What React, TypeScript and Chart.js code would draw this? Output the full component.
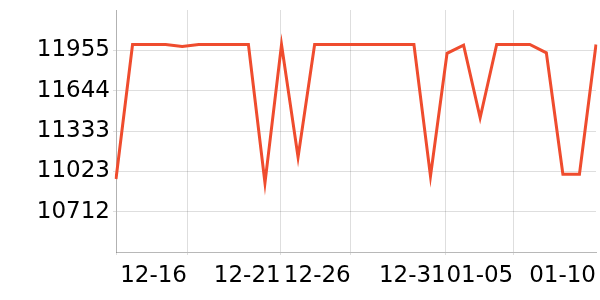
import React, { useEffect, useRef } from "react";
import { Chart, registerables } from "chart.js";

Chart.register(...registerables);

const categories: string[] = [
  "12-12", "12-13", "12-14", "12-15", "12-16", "12-17", "12-18", "12-19", "12-20", "12-21",
  "12-22", "12-23", "12-24", "12-25", "12-26", "12-27", "12-28", "12-29", "12-30", "12-31",
  "01-01", "01-02", "01-03", "01-04", "01-05", "01-06", "01-07", "01-08", "01-09", "01-10",
];

const seriesValues: number[] = [
  10964, 12000, 12000, 12000, 11985, 12000, 12000, 12000, 12000, 10933,
  12000, 11131, 12000, 12000, 12000, 12000, 12000, 12000, 12000, 10985,
  11932, 11995, 11435, 12000, 12000, 12000, 11936, 11000, 11000, 12000,
];

const xTickLabels: string[] = ["", "12-16", "12-21", "12-26", "12-31", "01-05", "01-10"];
const xTickPositions: number[] = [0, 4.29, 9.95, 14.18, 19.92, 24.0, 29];

const yTickValues: number[] = [10712, 11023, 11333, 11644, 11955];
const yMin = 10401.25;
const yMax = 12265.75;

export default function App() {
  const canvasRef = useRef<HTMLCanvasElement | null>(null);

  useEffect(() => {
    document.body.style.margin = "0";
    const canvas = canvasRef.current;
    if (!canvas) return;
    const font = { family: "DejaVu Sans", size: 23 };
    const chart = new Chart(canvas, {
      type: "line",
      data: {
        labels: categories,
        datasets: [
          {
            data: seriesValues,
            borderColor: "#ef4c2e",
            backgroundColor: "#ef4c2e",
            borderWidth: 3,
            pointRadius: 0,
            tension: 0,
            fill: false,
          },
        ],
      },
      options: {
        animation: false,
        responsive: false,
        layout: { padding: { top: 10, right: 4, left: 0, bottom: 0 } },
        plugins: { legend: { display: false }, tooltip: { enabled: false } },
        scales: {
          x: {
            type: "category",
            afterBuildTicks: (scale: any) => {
              scale.ticks = xTickPositions.map((v) => ({ value: v }));
            },
            afterFit: (scale: any) => {
              scale.height = 48;
              scale.paddingLeft = 0;
              scale.paddingRight = 0;
            },
            grid: {
              color: (ctx: any) =>
                ctx.index === xTickPositions.length - 1 ? "rgba(0,0,0,0)" : "rgba(0,0,0,0.13)",
              tickLength: 3,
            },
            border: { color: "rgba(0,0,0,0.28)" },
            ticks: {
              autoSkip: false,
              maxRotation: 0,
              minRotation: 0,
              align: "end",
              padding: 7,
              color: "#000",
              font,
              callback: (_v: any, i: number) => xTickLabels[i],
            },
          },
          y: {
            min: yMin,
            max: yMax,
            afterBuildTicks: (scale: any) => {
              scale.ticks = yTickValues.map((v) => ({ value: v }));
            },
            afterFit: (scale: any) => {
              scale.width = 116;
              scale.paddingTop = 0;
              scale.paddingBottom = 0;
            },
            grid: { color: "rgba(0,0,0,0.13)", tickLength: 3 },
            border: { color: "rgba(0,0,0,0.2)" },
            ticks: {
              padding: 3,
              color: "#000",
              font,
              callback: (v: any) => String(Math.round(Number(v))),
            },
          },
        },
      },
    });
    return () => chart.destroy();
  }, []);

  return (
    <div style={{ width: 600, height: 300 }}>
      <canvas ref={canvasRef} width={600} height={300} />
    </div>
  );
}
